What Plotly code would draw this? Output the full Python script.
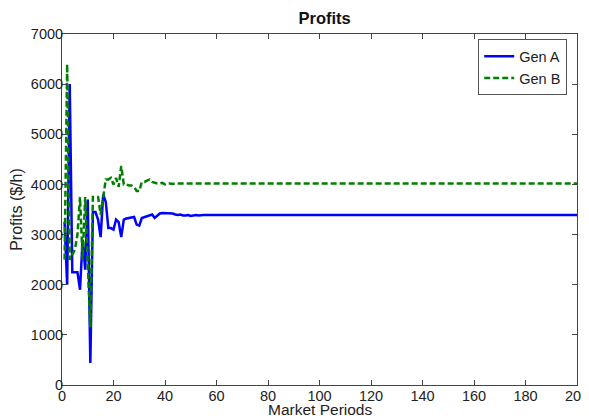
import plotly.graph_objects as go

periods = list(range(1, 61)) + [200]

gen_a = [3250, 2000, 6000, 2250, 2250, 2250, 1900, 2900, 2300, 3700,
         440, 3450, 3450, 3300, 2950, 3800, 3650, 3130, 3130, 3100,
         3300, 3250, 2950, 3300, 3320, 3330, 3330, 3350, 3200, 3180,
         3330, 3350, 3370, 3380, 3400, 3330, 3380, 3420, 3430, 3430,
         3430, 3420, 3420, 3400, 3390, 3400, 3380, 3380, 3390, 3370,
         3380, 3390, 3380, 3390, 3390, 3390, 3390, 3390, 3390, 3390,
         3390]

gen_b = [2500, 6400, 2500, 2600, 2700, 3000, 3750, 2500, 3750, 2400,
         1150, 3750, 3750, 3750, 3400, 3750, 4100, 4100, 4130, 4000,
         4130, 3950, 4370, 4000, 4000, 3980, 3980, 3950, 3870, 3870,
         4050, 4050, 4070, 4100, 4050, 4030, 4020, 4020, 4030, 4000,
         4020, 4020, 4010, 4020, 4020, 4020, 4020, 4020, 4020, 4020,
         4020, 4020, 4020, 4020, 4020, 4020, 4020, 4020, 4020, 4020,
         4020]

x_ticks = list(range(0, 201, 20))
y_ticks = list(range(0, 7001, 1000))

fig = go.Figure()
fig.add_trace(go.Scatter(x=periods, y=gen_a, mode="lines", name="Gen A",
                         line=dict(color="#0000ff", width=2.5)))
fig.add_trace(go.Scatter(x=periods, y=gen_b, mode="lines", name="Gen B",
                         line=dict(color="#008000", width=2.5, dash="6px,3px")))

font = "Liberation Sans, Arial, sans-serif"
txt = "#222222"
axis_common = dict(showline=True, linecolor="#444444", linewidth=1,
                   mirror="ticks", ticks="inside", ticklen=5,
                   tickcolor="#444444", showgrid=False, zeroline=False,
                   automargin=False, ticklabeloverflow="allow",
                   tickfont=dict(family=font, size=14.5, color=txt))

# page body has an 8px default margin; figure offset accounted for in margins
fig.update_layout(
    width=589, height=411,
    margin=dict(l=54, r=20, t=26, b=34),
    paper_bgcolor="white", plot_bgcolor="white",
    title=dict(text="<b>Profits</b>", xref="paper", x=0.51, xanchor="center",
               yref="container", y=0.976, yanchor="middle",
               font=dict(family=font, size=16.5, color="#111111")),
    xaxis=dict(range=[0, 200], tickvals=x_ticks, ticklabelstandoff=-2,
               **axis_common),
    yaxis=dict(range=[0, 7000], tickvals=y_ticks, ticklabelstandoff=-5,
               title=dict(text="Profits ($/h)", standoff=6,
                          font=dict(family=font, size=16, color=txt)),
               **axis_common),
    legend=dict(x=0.981, y=0.985, xanchor="right", yanchor="top",
                bordercolor="#555555", borderwidth=1, bgcolor="white",
                itemwidth=30, tracegroupgap=0,
                font=dict(family=font, size=14.5, color=txt)),
    showlegend=True,
    annotations=[dict(text="Market Periods", xref="paper", yref="paper",
                      x=0.5, y=-0.07, xanchor="center", yanchor="middle",
                      showarrow=False,
                      font=dict(family=font, size=15.5, color=txt))],
)

fig.write_html("out.html")
